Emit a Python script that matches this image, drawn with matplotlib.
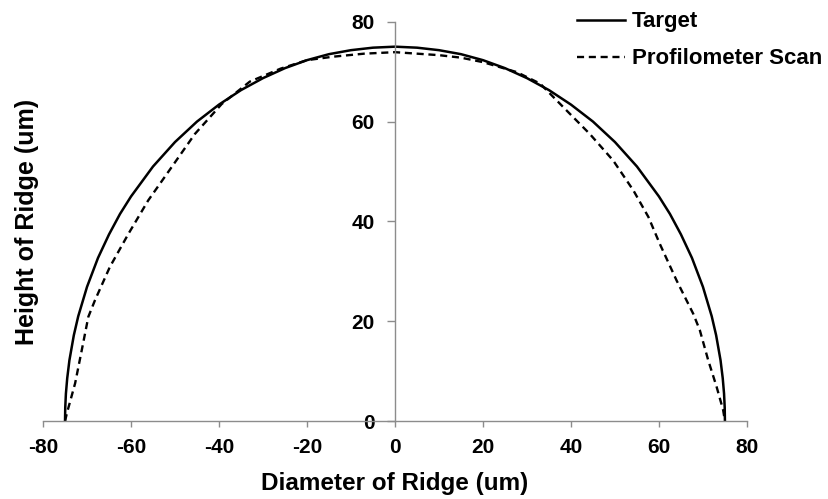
import matplotlib
matplotlib.use("Agg")
import matplotlib.pyplot as plt

plt.rcParams['font.family'] = ['Liberation Sans', 'DejaVu Sans']
plt.rcParams['font.weight'] = 'bold'
plt.rcParams['axes.unicode_minus'] = False

# Designed ridge profile (um)
target_x = [-75, -74.95, -74.8, -74.5, -74, -73, -72, -70, -67.5, -65, -62.5, -60,
            -55, -50, -45, -40, -35, -30, -25, -20, -15, -10, -5, 0,
            5, 10, 15, 20, 25, 30, 35, 40, 45, 50, 55, 60, 62.5, 65, 67.5,
            70, 72, 73, 74, 74.5, 74.8, 74.95, 75]
target_y = [0, 2.7, 5.5, 8.6, 12.2, 17.2, 21.0, 26.9, 32.7, 37.4, 41.5, 45.0,
            51.0, 55.9, 60.0, 63.4, 66.3, 68.7, 70.7, 72.3, 73.5, 74.3, 74.8, 75.0,
            74.8, 74.3, 73.5, 72.3, 70.7, 68.7, 66.3, 63.4, 60.0, 55.9, 51.0, 45.0, 41.5, 37.4, 32.7,
            26.9, 21.0, 17.2, 12.2, 8.6, 5.5, 2.7, 0]

# Measured profile from the profilometer (um)
scan_x = [-75, -74.6, -72.7, -71.2, -69.7, -68.2, -64.8, -60.6, -56.1, -50.75,
          -45.5, -39.4, -33, -26, -20, -14, -7, 0, 5, 10, 15, 20, 27.7, 33,
          38.25, 44.3, 49.6, 54.2, 57.6, 60.2, 64.0, 67.8, 69.3, 71.2, 73.1, 74.6, 75]
scan_y = [0, 1.5, 7.6, 14.2, 20.9, 24.2, 30.9, 37.5, 44.2, 50.9,
          57.5, 63.5, 68.0, 70.6, 72.3, 73.0, 73.6, 73.9, 73.6, 73.3, 72.8, 71.9, 69.9, 67.6,
          62.9, 57.5, 52.2, 46.2, 40.9, 35.5, 28.2, 21.5, 18.2, 12.2, 6.9, 2.2, 0]

x_ticks = [-80, -60, -40, -20, 0, 20, 40, 60, 80]
y_ticks = [0, 20, 40, 60, 80]

fig = plt.figure(figsize=(8.29, 4.99), dpi=100)
ax = fig.add_axes([0.0519, 0.156, 0.8491, 0.8005])

ax.plot(target_x, target_y, color='black', lw=1.8, label='Target',
        solid_joinstyle='round')
ax.plot(scan_x, scan_y, color='black', lw=1.7, dashes=(3, 2),
        label='Profilometer Scan')

ax.set_xlim(-80, 80)
ax.set_ylim(0, 80)
ax.set_xticks(x_ticks)
ax.set_yticks(y_ticks)

for side in ('top', 'right'):
    ax.spines[side].set_visible(False)
ax.spines['left'].set_position(('data', 0))
ax.spines['bottom'].set_position(('data', 0))
for side in ('left', 'bottom'):
    ax.spines[side].set_color('#8c8c8c')
    ax.spines[side].set_linewidth(1.0)

ax.tick_params(axis='both', direction='out', color='#8c8c8c', width=1.0,
               labelsize=15)
ax.tick_params(axis='x', length=4.5, pad=7.5)
ax.tick_params(axis='y', length=5.5, pad=9)
for lbl in ax.get_xticklabels() + ax.get_yticklabels():
    lbl.set_fontweight('bold')

fig.text(0.4755, 0.031, 'Diameter of Ridge (um)', ha='center', va='center',
         fontsize=17.5, fontweight='bold')
fig.text(0.033, 0.555, 'Height of Ridge (um)', ha='center', va='center',
         rotation=90, fontsize=18, fontweight='bold')

leg = fig.legend(loc='upper right', bbox_to_anchor=(822 / 829, 0.977),
                 frameon=False, fontsize=16, handlelength=2.16,
                 handletextpad=0.32, labelspacing=0.72, borderpad=0.0,
                 borderaxespad=0.0)
for t in leg.get_texts():
    t.set_fontweight('bold')

fig.savefig('out.png', dpi=100)
